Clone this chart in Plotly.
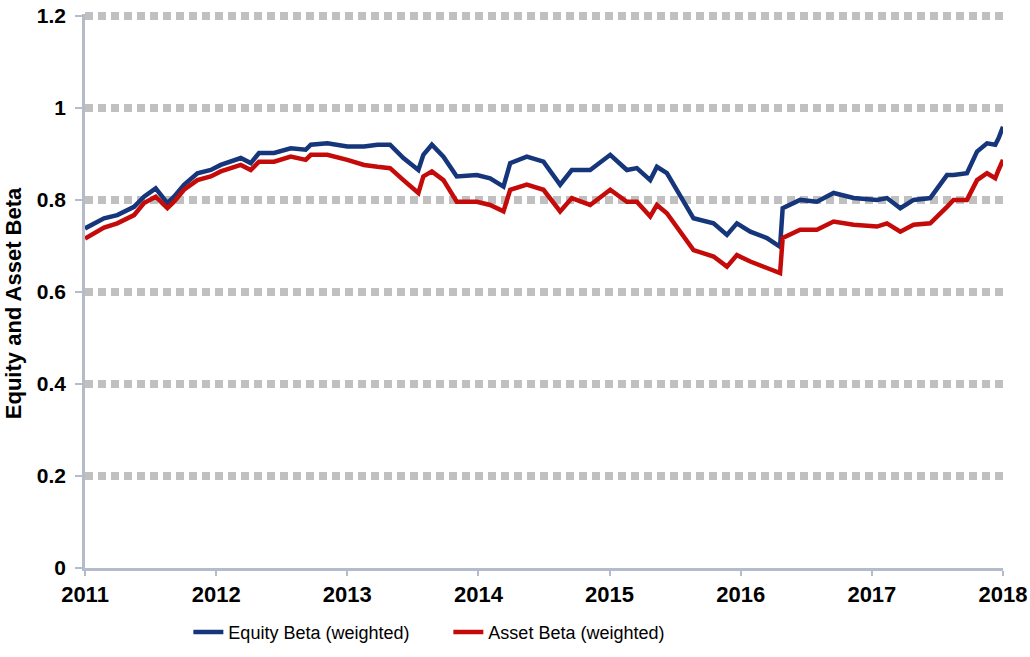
import plotly.graph_objects as go

years = [2011.000, 2011.145, 2011.246, 2011.374, 2011.450, 2011.539, 2011.628, 2011.679, 2011.755, 2011.857,
         2011.959, 2012.035, 2012.188, 2012.264, 2012.327, 2012.442, 2012.569, 2012.683, 2012.722, 2012.848,
         2013.000, 2013.128, 2013.230, 2013.326, 2013.428, 2013.542, 2013.580, 2013.645, 2013.733, 2013.835,
         2013.988, 2014.089, 2014.191, 2014.242, 2014.369, 2014.496, 2014.623, 2014.712, 2014.852, 2015.005,
         2015.132, 2015.208, 2015.310, 2015.361, 2015.437, 2015.564, 2015.640, 2015.793, 2015.895, 2015.971,
         2016.073, 2016.200, 2016.300, 2016.320, 2016.453, 2016.581, 2016.708, 2016.861, 2017.039, 2017.115,
         2017.217, 2017.318, 2017.445, 2017.573, 2017.623, 2017.725, 2017.802, 2017.878, 2017.941, 2017.966,
         2018.000]

equity_beta = [0.738, 0.760, 0.767, 0.785, 0.807, 0.825, 0.793, 0.807, 0.833, 0.858,
               0.865, 0.876, 0.891, 0.880, 0.902, 0.902, 0.912, 0.909, 0.920, 0.923,
               0.916, 0.916, 0.920, 0.920, 0.891, 0.865, 0.898, 0.920, 0.894, 0.851,
               0.854, 0.847, 0.829, 0.880, 0.894, 0.883, 0.833, 0.865, 0.865, 0.898,
               0.865, 0.869, 0.843, 0.872, 0.858, 0.796, 0.760, 0.749, 0.724, 0.749,
               0.731, 0.717, 0.698, 0.782, 0.800, 0.796, 0.815, 0.804, 0.800, 0.804,
               0.782, 0.800, 0.804, 0.854, 0.854, 0.858, 0.905, 0.923, 0.920, 0.934,
               0.959]

asset_beta = [0.716, 0.740, 0.749, 0.767, 0.793, 0.807, 0.782, 0.796, 0.822, 0.843,
              0.851, 0.862, 0.876, 0.865, 0.883, 0.883, 0.894, 0.887, 0.898, 0.898,
              0.887, 0.876, 0.872, 0.869, 0.843, 0.815, 0.851, 0.862, 0.843, 0.796,
              0.796, 0.789, 0.775, 0.822, 0.833, 0.822, 0.775, 0.804, 0.789, 0.822,
              0.796, 0.796, 0.764, 0.789, 0.771, 0.720, 0.691, 0.677, 0.655, 0.680,
              0.666, 0.652, 0.641, 0.717, 0.735, 0.735, 0.753, 0.746, 0.742, 0.749,
              0.731, 0.746, 0.749, 0.785, 0.800, 0.800, 0.843, 0.858, 0.847, 0.865,
              0.887]

x_ticks = [2011, 2012, 2013, 2014, 2015, 2016, 2017, 2018]
y_ticks = [0, 0.2, 0.4, 0.6, 0.8, 1, 1.2]
y_labels = ["0", "0.2", "0.4", "0.6", "0.8", "1", "1.2"]
y_title = "Equity and Asset Beta"

fig = go.Figure()
fig.add_trace(go.Scatter(x=years, y=equity_beta, mode="lines", name="Equity Beta (weighted)",
                         line=dict(color="#15367a", width=4.5)))
fig.add_trace(go.Scatter(x=years, y=asset_beta, mode="lines", name="Asset Beta (weighted)",
                         line=dict(color="#c50a0a", width=4.5)))

font_family = "Liberation Sans, Arial, sans-serif"
axis_col = "#b4bccb"
fig.update_layout(
    width=1030, height=657,
    margin=dict(l=85, r=27, t=14, b=89, autoexpand=False),
    paper_bgcolor="white", plot_bgcolor="white",
    font=dict(family=font_family, color="black"),
    showlegend=True,
    legend=dict(orientation="h", x=0.1126, xanchor="left", y=-0.116, yanchor="middle",
                font=dict(size=18, family=font_family), itemwidth=30, traceorder="normal",
                entrywidth=215, entrywidthmode="pixels"),
    xaxis=dict(range=[2011, 2018], tickvals=x_ticks, ticktext=[str(v) for v in x_ticks],
               showgrid=False, zeroline=False, showline=True, linecolor=axis_col, linewidth=2.5,
               ticks="outside", ticklen=5, tickcolor=axis_col, tickwidth=1.5, automargin=False,
               tickfont=dict(size=22, family=font_family, weight="bold")),
    yaxis=dict(range=[0, 1.204], tickvals=y_ticks, ticktext=y_labels,
               showgrid=True, gridcolor="#c0c0c0", gridwidth=8, griddash="8px,5px",
               zeroline=False, showline=True, linecolor=axis_col, linewidth=2.5,
               ticks="outside", ticklen=7, tickcolor=axis_col, tickwidth=1.5, automargin=False,
               ticklabelstandoff=5,
               tickfont=dict(size=21, family=font_family, weight="bold")),
    annotations=[dict(text=y_title, xref="paper", yref="paper", x=0, y=0.478,
                      xshift=-72, xanchor="center", yanchor="middle", textangle=-90,
                      showarrow=False, font=dict(size=22, family=font_family, weight="bold"))],
)

fig.write_html("out.html", config={"displayModeBar": False},
               post_script="document.body.style.margin='0';document.body.style.overflow='hidden';")
